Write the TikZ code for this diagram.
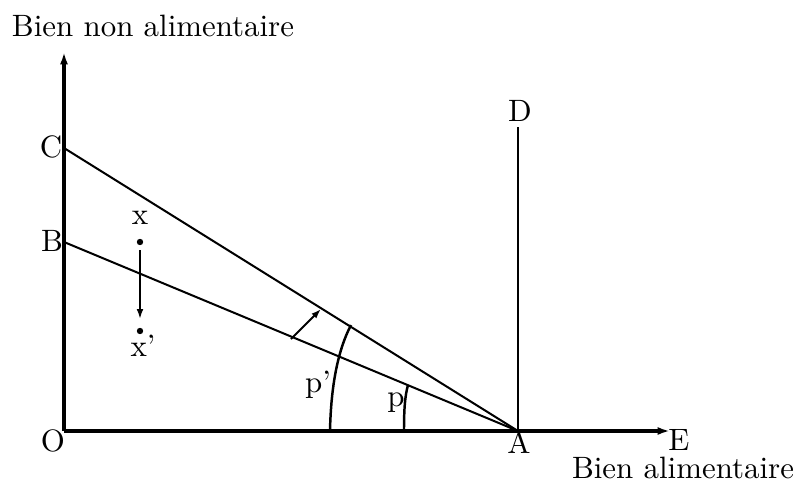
\documentclass[tikz,border=0pt]{standalone}
\usetikzlibrary{arrows.meta}
\begin{document}
\begin{tikzpicture}[x=0.3236pt,y=-0.3236pt,
  axis/.style={line width=1pt,-{Latex[length=4pt,width=2.6pt]}},
  budget/.style={line width=0.65pt},
  anglearc/.style={line width=0.8pt},
  lbl/.style={inner sep=0pt,font=\normalsize},
  shiftarrow/.style={line width=0.6pt,-{Latex[length=3.2pt,width=2.2pt]}}]
\useasboundingbox (0,0) rectangle (796,486);
% points
\coordinate (O) at (64,431);
\coordinate (Ytip) at (64,52);
\coordinate (Etip) at (670,431);
\coordinate (A) at (518,431);
\coordinate (Dtop) at (518,127);
\coordinate (C) at (64,148);
\coordinate (B) at (64,242);
\coordinate (X) at (140,242);
\coordinate (Xp) at (140,331);
\coordinate (Xs) at (140,250);
\coordinate (Xe) at (140,319);
\coordinate (Ss) at (291,339);
\coordinate (Se) at (321,309);
\coordinate (Pp0) at (330,431);
\coordinate (Pp1) at (351,325);
\coordinate (P0) at (404,431);
\coordinate (P1) at (408,385);
% axes
\draw[axis] (O) -- (Ytip);
\draw[axis] (O) -- (Etip);
% D line
\draw[line width=0.9pt] (A) -- (Dtop);
% budget lines
\draw[budget] (C) -- (A);
\draw[budget] (B) -- (A);
% angle arcs
\draw[anglearc] (Pp0) .. controls (331,385) and (338,350) .. (Pp1);
\draw[anglearc] (P0) .. controls (404,408) and (405,396) .. (P1);
% points x and x'
\fill (X) circle[radius=3.2];
\fill (Xp) circle[radius=3.2];
\draw[shiftarrow] (Xs) -- (Xe);
\draw[shiftarrow] (Ss) -- (Se);
% labels
\node[lbl] (lY) at (153,26) {Bien non alimentaire};
\node[lbl] (lX) at (683,468) {Bien alimentaire};
\node[lbl] (lO) at (53,441) {O};
\node[lbl] (lA) at (519,442) {A};
\node[lbl] (lE) at (679,440) {E};
\node[lbl] (lD) at (520,111) {D};
\node[lbl] (lC) at (51,147) {C};
\node[lbl] (lB) at (52,241) {B};
\node[lbl] (lx) at (140,218) {x};
\node[lbl] (lxp) at (143,346) {x'};
\node[lbl] (lpp) at (318,385) {p'};
\node[lbl] (lp) at (396,403) {p};
\end{tikzpicture}
\end{document}
